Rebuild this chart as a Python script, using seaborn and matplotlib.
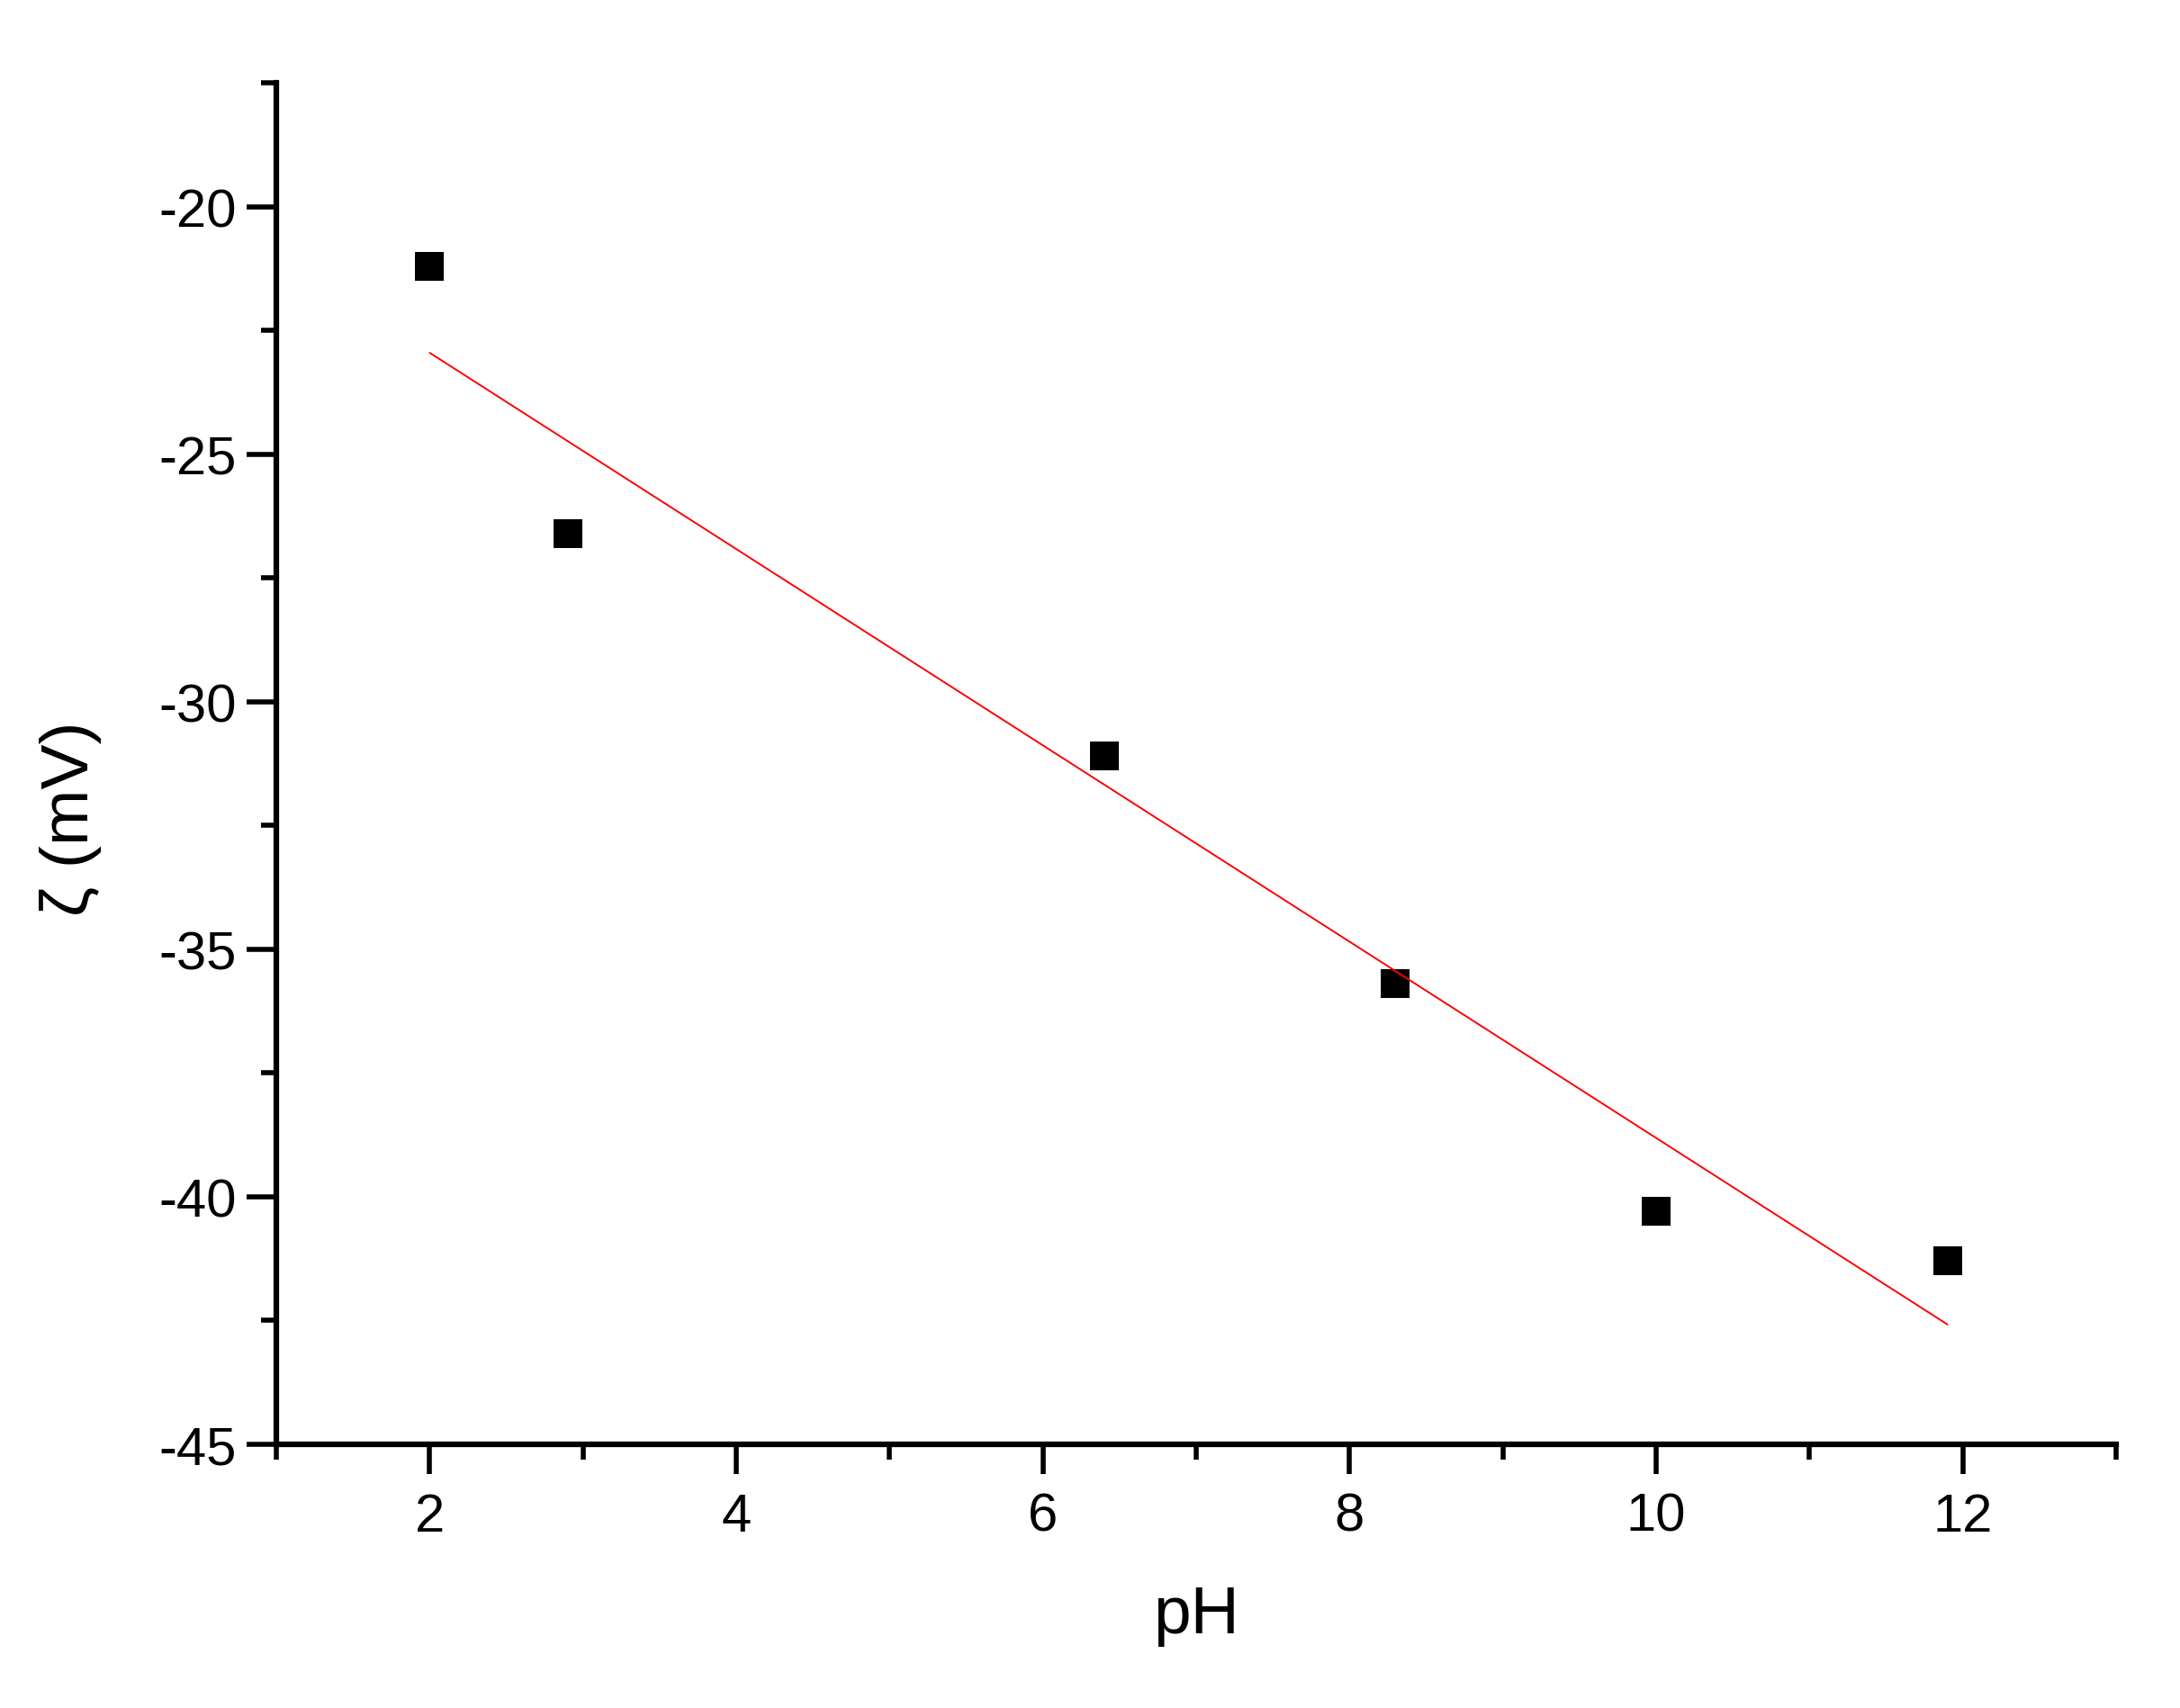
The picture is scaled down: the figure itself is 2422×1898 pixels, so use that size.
import numpy as np
import matplotlib.pyplot as plt
import matplotlib.ticker as ticker
import seaborn as sns

# valores
ph = [2.0, 2.9, 6.4, 8.3, 10.0, 11.9]
zeta = [-21.2, -26.6, -31.1, -35.7, -40.3, -41.3]

sns.set_style("ticks")
plt.rcParams['font.family'] = ['Liberation Sans', 'DejaVu Sans']
plt.rcParams['axes.unicode_minus'] = False
plt.rcParams['text.color'] = 'black'
plt.rcParams['axes.labelcolor'] = 'black'
plt.rcParams['xtick.color'] = 'black'
plt.rcParams['ytick.color'] = 'black'

fig = plt.figure(figsize=(24.22, 18.99), dpi=100)
ax = fig.add_axes([0.1268, 0.1543, 0.8439, 0.7967])

# puntos + ajuste lineal
sns.regplot(x=ph, y=zeta, ax=ax, ci=None, truncate=True, marker="s",
            scatter_kws={"s": 520, "color": "black", "linewidths": 0, "alpha": 1},
            line_kws={"color": "red", "linewidth": 1.4})

ax.set_xlim(1, 13)
ax.set_ylim(-45, -17.5)
ax.xaxis.set_major_locator(ticker.MultipleLocator(2))
ax.xaxis.set_minor_locator(ticker.MultipleLocator(1))
ax.yaxis.set_major_locator(ticker.MultipleLocator(5))
ax.yaxis.set_minor_locator(ticker.MultipleLocator(2.5))

for s in ["top", "right"]:
    ax.spines[s].set_visible(False)
for s in ["left", "bottom"]:
    ax.spines[s].set_linewidth(4.5)
    ax.spines[s].set_color("black")

ax.tick_params(axis="both", which="major", direction="out", length=24, width=4, color="black",
               labelsize=43, labelcolor="black")
ax.tick_params(axis="both", which="minor", direction="out", length=12, width=4, color="black")
ax.tick_params(axis="x", which="major", pad=14)
ax.tick_params(axis="y", which="major", pad=8)

ax.set_xlabel("pH", fontsize=54, labelpad=34)
ax.set_ylabel("ζ (mV)", fontsize=54)
ax.yaxis.set_label_coords(-0.095, 0.46)

fig.savefig("out.png", dpi=100, facecolor="white")
